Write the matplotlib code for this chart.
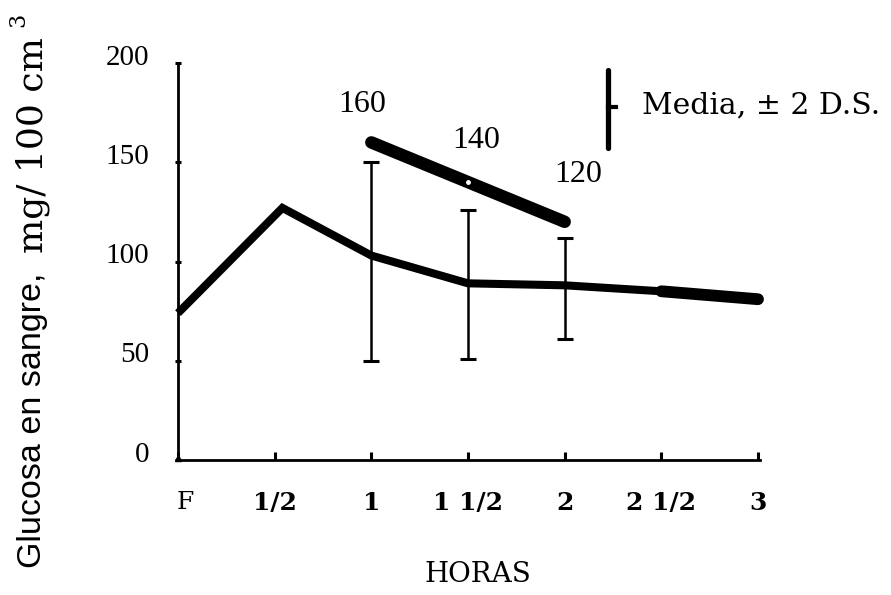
import matplotlib
matplotlib.use("Agg")
import matplotlib.pyplot as plt
from matplotlib.lines import Line2D
from matplotlib.transforms import ScaledTranslation

# ---- data ----
hours = [0, 0.54, 1, 1.5, 2, 2.5, 3]
glucose_mean = [74, 127, 103, 89, 88, 85, 81]

err_hours = [1, 1.5, 2]
err_low = [50, 51, 61]
err_high = [150, 126, 112]

high_hours = [1, 1.5, 2]
high_values = [160, 140, 120]
high_labels = ["160", "140", "120"]

xtick_pos = [0, 0.5, 1, 1.5, 2, 2.5, 3]
xtick_labels = ["F", "1/2", "1", "1 1/2", "2", "2 1/2", "3"]
ytick_pos = [0, 50, 100, 150, 200]
ytick_labels = ["0", "50", "100", "150", "200"]

W, H = 891, 595
LSERIF = ["Liberation Serif", "DejaVu Serif"]
DSERIF = ["DejaVu Serif"]
SANS = ["Liberation Sans", "DejaVu Sans"]

fig = plt.figure(figsize=(W / 100, H / 100), dpi=100)
fig.patch.set_facecolor("white")

def fx(px):
    return px / W

def fy(py):
    return 1 - py / H

ax = fig.add_axes([fx(178), fy(460), (758 - 178) / W, (460 - 63) / H])
ax.set_xlim(0, 3)
ax.set_ylim(0, 200)
for s in ("top", "right"):
    ax.spines[s].set_visible(False)
for s in ("left", "bottom"):
    ax.spines[s].set_linewidth(2.0)
    ax.spines[s].set_color("black")
ax.spines["bottom"].set_bounds(0, 3.01)

# arrow tip on y axis
ax.plot([0], [1.0], marker="^", markersize=5, color="black",
        transform=ax.get_yaxis_transform(), clip_on=False)

# main mean line
ax.plot(hours, glucose_mean, color="black", lw=5.8, solid_joinstyle="miter",
        solid_capstyle="butt", clip_on=False, zorder=3)
ax.plot(hours[-2:], glucose_mean[-2:], color="black", lw=8.5,
        solid_capstyle="round", clip_on=False, zorder=3)

# error bars (± 2 D.S.)
mid = [(l + h) / 2 for l, h in zip(err_low, err_high)]
half = [(h - l) / 2 for l, h in zip(err_low, err_high)]
ax.errorbar(err_hours, mid, yerr=half, fmt="none", ecolor="black",
            elinewidth=1.8, capsize=6, capthick=2.2, zorder=4, clip_on=False)

# upper thick line
ax.plot(high_hours, high_values, color="black", lw=9, solid_capstyle="round",
        solid_joinstyle="round", clip_on=False, zorder=3)
ax.plot([high_hours[1]], [high_values[1]], marker="o", markersize=2.5,
        color="white", zorder=5, clip_on=False)

label_offsets = [(-6.5, 27), (6, 30), (10, 34)]
for x, y, t, off in zip(high_hours, high_values, high_labels, label_offsets):
    ax.annotate(t, (x, y), xytext=off, textcoords="offset points",
                ha="center", va="center", fontsize=23, family=LSERIF)

# ticks
ax.set_xticks(xtick_pos)
ax.set_xticklabels(xtick_labels, family=DSERIF, fontsize=18, fontweight="bold")
ax.tick_params(axis="x", direction="in", length=6, width=2.2, pad=22)
ax.set_yticks(ytick_pos)
ax.set_yticklabels(ytick_labels, family=LSERIF, fontsize=21)
ax.tick_params(axis="y", direction="inout", length=5, width=2.2, pad=18)
for lab in ax.get_yticklabels():
    lab.set_transform(lab.get_transform() + ScaledTranslation(0, 6 / 72, fig.dpi_scale_trans))
xt = ax.get_xticklabels()
xt[0].set_transform(xt[0].get_transform() + ScaledTranslation(5 / 72, 0, fig.dpi_scale_trans))
xt[0].set_fontweight("normal")

# axis titles
fig.text(fx(33), fy(420), "Glucosa en sangre,", rotation=90, ha="center", va="center",
         family=SANS, fontsize=24.5)
fig.text(fx(33), fy(145), "mg/ 100 cm", rotation=90, ha="center", va="center",
         family=DSERIF, fontsize=26)
fig.text(fx(18), fy(20), "3", rotation=90, ha="center", va="center",
         family=DSERIF, fontsize=16)
fig.text(fx(478), fy(575), "HORAS", ha="center", va="center", family=DSERIF, fontsize=20)

# legend
fig.add_artist(Line2D([fx(608), fx(608)], [fy(70), fy(148)], color="black", lw=3.8,
                      solid_capstyle="round", transform=fig.transFigure))
fig.add_artist(Line2D([fx(608), fx(616)], [fy(107), fy(107)], color="black", lw=3.0,
                      transform=fig.transFigure))
fig.text(fx(642), fy(106), "Media, \u00b1 2 D.S.", ha="left", va="center",
         family=DSERIF, fontsize=21.5)

fig.savefig("out.png", dpi=100, facecolor="white")
